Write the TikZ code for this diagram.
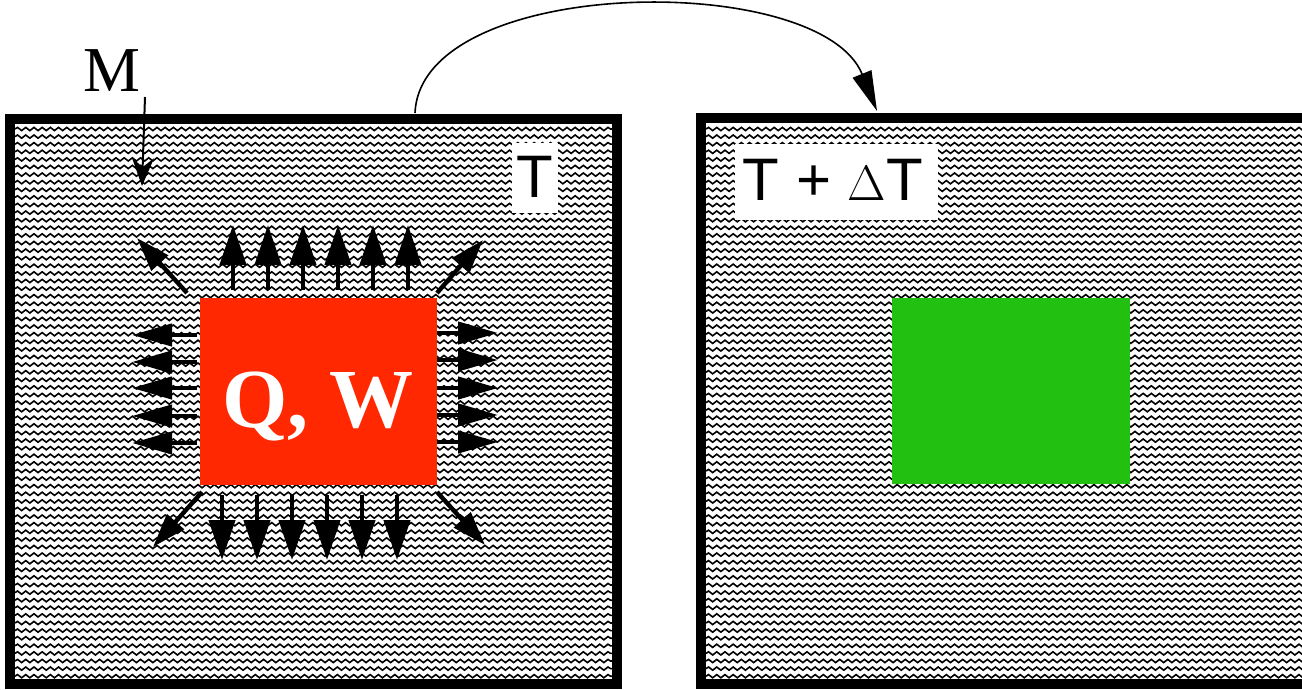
\documentclass[tikz,border=0pt]{standalone}
\usepackage{fontspec}
\setmainfont{Liberation Serif}
\newfontfamily\sansf{Liberation Sans}
\usetikzlibrary{arrows.meta,decorations.pathmorphing}
\definecolor{qred}{RGB}{255,40,0}
\definecolor{qgreen}{RGB}{34,192,16}
\tikzset{
  waveline/.style={line width=0.8pt, decorate, decoration={snake, segment length=4.1pt, amplitude=0.8pt}},
  wall/.style={line width=5pt},
  vflux/.style={line width=2.2pt, -{Triangle[length=20pt,width=13pt]}},
  hflux/.style={line width=2.2pt, -{Triangle[length=20pt,width=11pt]}},
  dflux/.style={line width=2.2pt, -{Triangle[length=17pt,width=11pt]}},
  pointer/.style={line width=1pt, -{Stealth[length=14pt,width=11pt]}},
  transfer/.style={line width=0.8pt, -{Triangle[length=20pt,width=10pt]}},
  labelbox/.style={fill=white, inner sep=0pt},
  sanslabel/.style={font=\sansf\fontsize{30}{30}\selectfont, inner sep=0pt}
}
\begin{document}
\begin{tikzpicture}[x=0.5pt,y=-0.5pt]
\useasboundingbox (0,0) rectangle (1302,690);
\clip (0,0) rectangle (1302,690);
% wavy medium
\foreach \y in {129,136.6,...,680}{
  \draw[waveline] (15,\y) -- (612,\y);
  \draw[waveline] (706,\y) -- (1310,\y);
}
% containers
\draw[wall] (10,119) rectangle (617,684);
\draw[wall] (701,118) rectangle (1340,684);
% labels
\node[labelbox, minimum width=23pt, minimum height=35pt] (tbox) at (535,178) {};
\node[sanslabel] (tlabel) at (535,177) {T};
\node[labelbox, minimum width=101.5pt, minimum height=37.5pt] (dtbox) at (836.5,182) {};
\node[sanslabel] (dtlabel) at (833,180) {T + $\Delta$T};
% source and result
\node[fill=qred, inner sep=0pt, minimum width=118.5pt, minimum height=93.5pt] (heat) at (318.5,391.5) {};
\node[anchor=base, text=white, inner sep=0pt, font=\bfseries\fontsize{42}{42}\selectfont] (qw) at (318,427) {Q, W};
\node[fill=qgreen, inner sep=0pt, minimum width=119pt, minimum height=93pt] (result) at (1011,391) {};
% M label
\node[anchor=base, inner sep=0pt, font=\fontsize{32}{32}\selectfont] (mlabel) at (112,92) {M};
\coordinate (mfrom) at (145,97);
\coordinate (mto) at (142,186);
\draw[pointer] (mfrom) -- (mto);
% transfer arrow
\coordinate (cs) at (415,113);
\coordinate (ce) at (877,111);
\draw[transfer] (cs) .. controls (421,-25) and (820,-30) .. (ce);
% flux arrows
\foreach \x in {233,268,303,338,373,408}{
  \coordinate (ua\x) at (\x,290);
  \coordinate (ub\x) at (\x,225);
  \draw[vflux] (ua\x) -- (ub\x);
}
\foreach \x in {222,257,292,327,362,397}{
  \coordinate (da\x) at (\x,495);
  \coordinate (db\x) at (\x,560);
  \draw[vflux] (da\x) -- (db\x);
}
\foreach \y in {335,362,388,416,443}{
  \coordinate (la\y) at (197,\y);
  \coordinate (lb\y) at (132,\y);
  \draw[hflux] (la\y) -- (lb\y);
}
\foreach \y in {333,360,388,415,442}{
  \coordinate (ra\y) at (437,\y);
  \coordinate (rb\y) at (498,\y);
  \draw[hflux] (ra\y) -- (rb\y);
}
\coordinate (tla) at (187,293); \coordinate (tlb) at (137,238);
\coordinate (tra) at (437,293); \coordinate (trb) at (483,240);
\coordinate (bla) at (202,492); \coordinate (blb) at (153,547);
\coordinate (bra) at (437,492); \coordinate (brb) at (485,545);
\draw[dflux] (tla) -- (tlb);
\draw[dflux] (tra) -- (trb);
\draw[dflux] (bla) -- (blb);
\draw[dflux] (bra) -- (brb);
\end{tikzpicture}
\end{document}
